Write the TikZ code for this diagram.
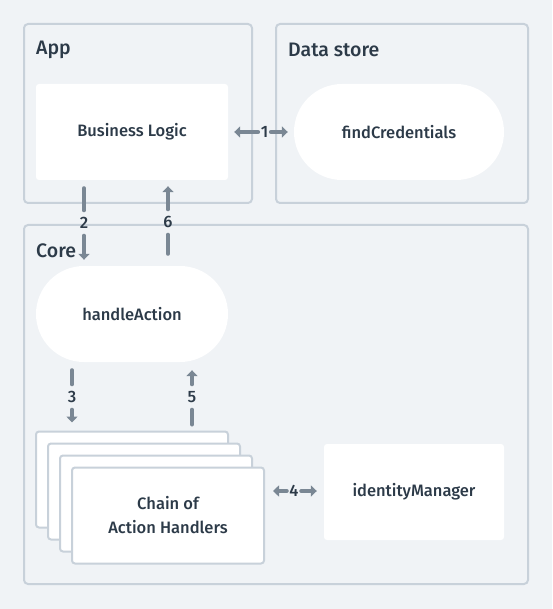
\documentclass[tikz,border=0pt]{standalone}
\usepackage{fontspec}
\setmainfont{Fira Sans Medium}
\usetikzlibrary{arrows.meta,calc}
\definecolor{bg}{HTML}{F0F3F6}
\definecolor{frame}{HTML}{C8D1DA}
\definecolor{arr}{HTML}{7A8794}
\definecolor{ink}{HTML}{2C3A48}
\tikzset{
  container/.style={draw=frame, line width=2pt, rounded corners=4pt, fill=bg, inner sep=0pt},
  card/.style={fill=white, rounded corners=3pt, inner sep=0pt, align=center, minimum width=192pt, minimum height=96pt},
  pill/.style={card, rounded corners=48pt},
  sheet/.style={card, draw=frame, line width=2pt},
  title/.style={anchor=west, inner sep=0pt, font=\fontsize{19.5}{23}\selectfont},
  num/.style={inner xsep=2.5pt, inner ysep=0pt, minimum height=25pt},
  conn/.style={draw=arr, line width=4pt, line cap=round},
  tipend/.style={-{Triangle[length=6pt,width=11pt]}}
}
\begin{document}
\begin{tikzpicture}[x=1pt,y=-1pt, font=\fontsize{16.5}{24}\selectfont, text=ink]
\useasboundingbox[fill=bg] (0,0) rectangle (552,609);
% containers
\node[container, minimum width=228pt, minimum height=179pt] (app) at (138,113.5) {};
\node[container, minimum width=252pt, minimum height=179pt] (ds) at (402,113.5) {};
\node[container, minimum width=504pt, minimum height=359pt] (core) at (276,404.5) {};
\node[title] (tapp) at (36,50) {App};
\node[title] (tds) at (288,50) {Data store};
\node[title] (tcore) at (36,251) {Core};
% cards
\node[card] (bl) at (132,132) {Business Logic};
\node[pill, minimum width=210pt] (fc) at (399,132) {findCredentials};
\node[pill] (ha) at (132,314) {handleAction};
\node[sheet] (ch1) at (132,479.5) {};
\node[sheet] (ch2) at (144,491.5) {};
\node[sheet] (ch3) at (156,503.5) {};
\node[sheet] (ch4) at (168,515.5) {Chain of\\Action Handlers};
\node[card, minimum width=180pt] (im) at (414,492) {identityManager};
% arrow 1
\node[num] (n1) at (264.5,132) {1};
\draw[conn,tipend,shorten >=6pt] (n1.west) -- (bl.east);
\draw[conn,tipend,shorten >=6pt] (n1.east) -- (fc.west);
% arrow 2
\node[num] (n2) at (84,223) {2};
\draw[conn,shorten <=8pt] (n2 |- bl.south) -- (n2.north);
\draw[conn,tipend,shorten >=6pt] (n2.south) -- (n2 |- ha.north);
% arrow 6
\node[num] (n6) at (168,222) {6};
\draw[conn,tipend,shorten >=6pt] (n6.north) -- (n6 |- bl.south);
\draw[conn,shorten <=12pt] (n6 |- ha.north) -- (n6.south);
% arrow 3
\node[num] (n3) at (72,397) {3};
\draw[conn,shorten <=8pt] (n3 |- ha.south) -- (n3.north);
\draw[conn,tipend,shorten >=8pt] (n3.south) -- (n3 |- ch1.north);
% arrow 5
\node[num] (n5) at (192,397) {5};
\draw[conn,tipend,shorten >=8pt] (n5.north) -- (n5 |- ha.south);
\draw[conn,shorten <=6pt] (n5 |- ch1.north) -- (n5.south);
% arrow 4
\node[num] (n4) at (294,491) {4};
\draw[conn,tipend,shorten >=8pt] (n4.west) -- (n4 -| ch4.east);
\draw[conn,tipend,shorten >=7pt] (n4.east) -- (n4 -| im.west);
\end{tikzpicture}
\end{document}
